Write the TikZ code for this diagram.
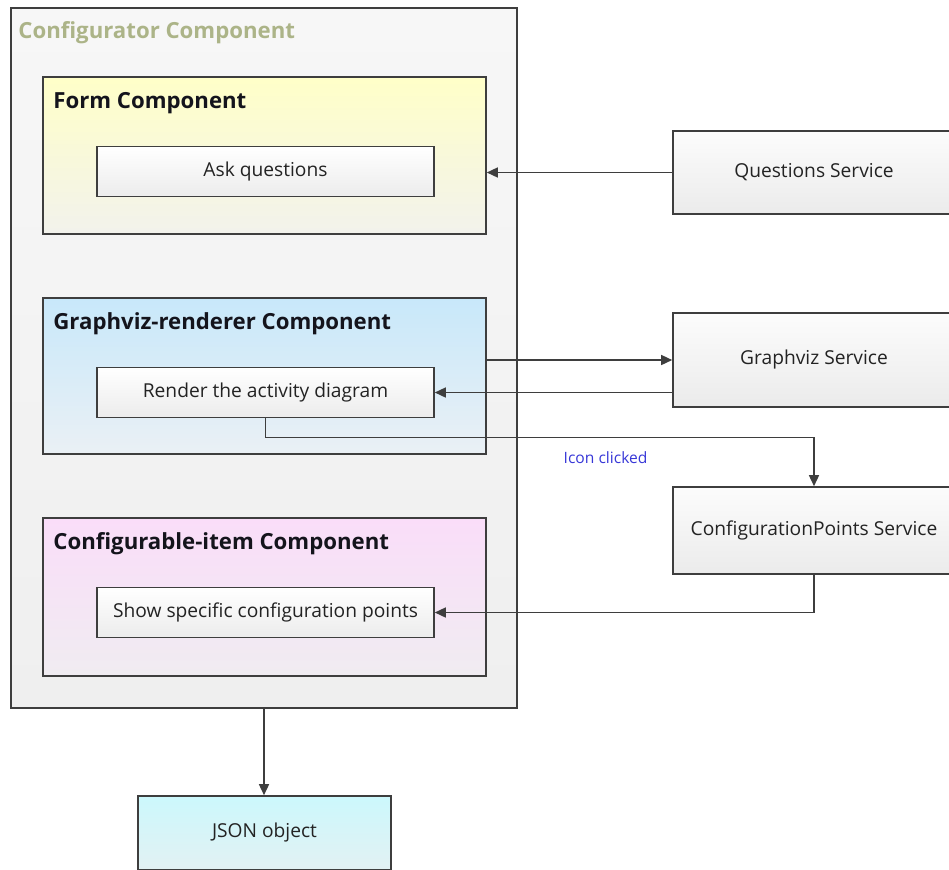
\documentclass[tikz,border=0pt]{standalone}
\usepackage{fontspec}
\setmainfont{Open Sans}
\usepackage{xcolor}
\usetikzlibrary{positioning,arrows.meta,calc}
\definecolor{edge}{RGB}{62,62,62}
\definecolor{ink}{RGB}{35,35,35}
\definecolor{olive}{RGB}{172,180,136}
\definecolor{clickblue}{RGB}{55,55,215}

\begin{document}
\begin{tikzpicture}[
  x=0.5pt, y=-0.5pt,
  box/.style={draw=edge, line width=0.8pt, inner sep=0pt, font=\fontsize{9.6}{11}\selectfont, text=ink},
  outer/.style={box, minimum width=253pt, minimum height=350pt, top color={rgb,255:red,247;green,247;blue,247}, bottom color={rgb,255:red,239;green,239;blue,239}},
  comp/.style={box, minimum width=221.5pt, minimum height=78.5pt},
  act/.style={box, minimum width=168.5pt, minimum height=25pt, top color=white, bottom color={rgb,255:red,236;green,236;blue,236}},
  svc/.style={box, minimum width=141pt, top color={rgb,255:red,252;green,252;blue,252}, bottom color={rgb,255:red,235;green,235;blue,235}},
  result/.style={box, minimum width=126.5pt, minimum height=37pt, top color={rgb,255:red,204;green,248;blue,252}, bottom color={rgb,255:red,226;green,241;blue,243}},
  title/.style={anchor=west, inner sep=0pt, font=\fontsize{11.1}{13}\selectfont\bfseries, text={rgb,255:red,20;green,20;blue,28}},
  arr/.style={-{Triangle[length=5.5pt, width=5pt]}, draw=edge, line width=0.75pt}
]
\useasboundingbox (0,0) rectangle (949,869);
\clip (0,0) rectangle (949,869);
% configurator with its three components
\node[outer] (conf) at (264,358) {};
\node[title, text=olive] (conftitle) at (18,33) {Configurator Component};
\node[comp, top color={rgb,255:red,255;green,255;blue,200}, bottom color={rgb,255:red,242;green,242;blue,236}] (form) at (264.5,155.5) {};
\node[title] (formtitle) at (53,103) {Form Component};
\node[act] (ask) at (265.5,171.5) {Ask questions};
\node[comp, minimum height=78pt, top color={rgb,255:red,200;green,232;blue,250}, bottom color={rgb,255:red,234;green,240;blue,245}] (gvr) at (264.5,376) {};
\node[title] (gvrtitle) at (53,324) {Graphviz-renderer Component};
\node[act] (render) at (265.5,392.5) {Render the activity diagram};
\node[comp, minimum height=79pt, top color={rgb,255:red,250;green,221;blue,249}, bottom color={rgb,255:red,240;green,236;blue,241}] (item) at (264.5,597) {};
\node[title] (itemtitle) at (53,544) {Configurable-item Component};
\node[act] (show) at (265.5,612.5) {Show specific configuration points};
% services
\node[svc, minimum height=41.5pt] (qsvc) at (814,172.5) {Questions Service};
\node[svc, minimum height=47pt] (gsvc) at (814,360) {Graphviz Service};
\node[svc, minimum height=43.5pt] (cpsvc) at (814,530.5) {ConfigurationPoints Service};
% output
\node[result] (json) at (264.5,833) {JSON object};

% connectors
\draw[arr] (qsvc.west) -- (qsvc.west -| form.east);
\draw[arr] (gvr.east |- gsvc.west) -- (gsvc.west);
\draw[arr] (render.east -| gsvc.west) -- (render.east);
\draw[arr] (render.south) -- ++(0,19) -| node[pos=0.31, below=7pt, inner sep=0pt, font=\fontsize{7.8}{9}\selectfont, text=clickblue]{Icon clicked} (cpsvc.north);
\draw[arr] (cpsvc.south) |- (show.east);
\draw[arr] (conf.south) -- (conf.south |- json.north);
\end{tikzpicture}
\end{document}
